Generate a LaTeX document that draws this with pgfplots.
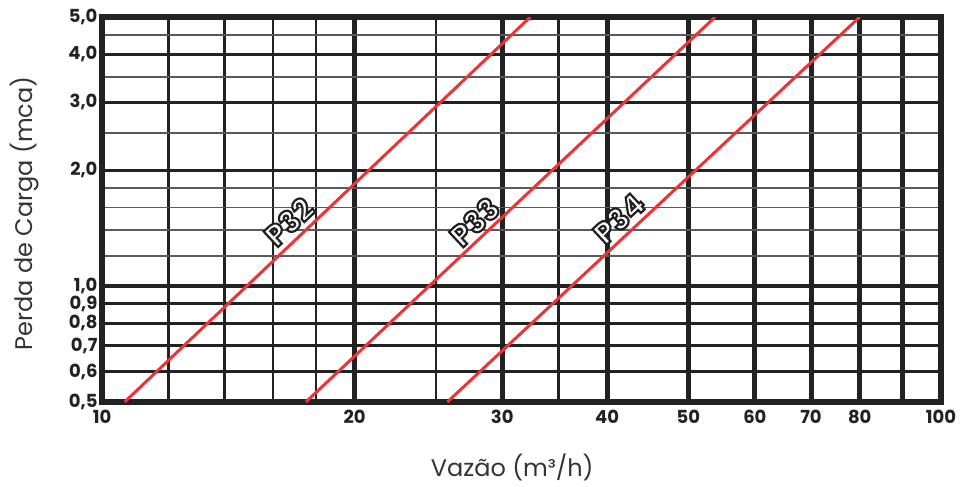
\documentclass[border=0pt]{standalone}
\usepackage{fontspec}
\setmainfont{Poppins}
\usepackage{pgfplots}
\pgfplotsset{compat=1.18}
\usetikzlibrary{calc}
\definecolor{frame}{HTML}{222222}
\definecolor{redline}{HTML}{EC3338}
\definecolor{labgray}{HTML}{333333}
\newcommand\tickfont{\fontsize{18}{20}\selectfont\bfseries}
\newcommand\plfont{\fontsize{30}{32}\selectfont\bfseries}
\newcommand\outl[1]{\special{pdf:literal direct 0.13 0.13 0.13 RG 2 Tr 2.2 w}#1\special{pdf:literal direct 0 Tr}}
\begin{document}
\begin{tikzpicture}
\begin{axis}[
  scale only axis, width=839pt, height=385pt,
  xmode=log, ymode=log,
  xmin=10, xmax=100, ymin=0.5, ymax=5,
  axis line style={draw=frame, line width=6pt},
  xtick={10,20,30,40,50,60,70,80,90,100},
  xticklabels={10,20,30,40,50,60,70,80,,100},
  minor xtick={12,14,16,18,25,35},
  ytick={0.5,0.6,0.7,0.8,0.9,1,2,3,4,5},
  yticklabels={{0,5},{0,6},{0,7},{0,8},{0,9},{1,0},{2,0},{3,0},{4,0},{5,0}},
  minor ytick={1.2,1.4,1.6,1.8,2.5,3.5,4.5},
  major tick length=0pt, minor tick length=0pt,
  tick style={draw=none},
  xmajorgrids, ymajorgrids, xminorgrids, yminorgrids,
  major x grid style={draw=frame, line width=5pt},
  minor x grid style={draw=frame, line width=2.4pt},
  major y grid style={draw=frame, line width=3.4pt},
  minor y grid style={draw=frame!75, line width=1.8pt},
  xticklabel style={font=\tickfont, text=frame, yshift=-5pt},
  yticklabel style={font=\tickfont, text=frame, xshift=-1pt},
  xlabel={Vazão (m³/h)},
  ylabel={Perda de Carga (mca)},
  every axis x label/.style={at={(axis description cs:0.489,0)}, anchor=center, yshift=-65pt, font=\fontsize{24}{26}\selectfont, text=labgray},
  every axis y label/.style={at={(axis description cs:-0.0918,0.49)}, anchor=center, rotate=90, font=\fontsize{24}{26}\selectfont, text=labgray},
  clip=true,
]
\addplot[redline, line width=3pt] coordinates {(10.64,0.5) (32.4,5.0)};
\addplot[redline, line width=3pt] coordinates {(17.5,0.5) (53.8,5.0)};
\addplot[redline, line width=3pt] coordinates {(25.8,0.5) (80,5.0)};
\coordinate (p32) at (axis cs:16.7,1.47);
\coordinate (p33) at (axis cs:27.8,1.47);
\coordinate (p34) at (axis cs:41.3,1.50);
\coordinate (sw) at (rel axis cs:0,0);
\coordinate (ne) at (rel axis cs:1,1);
\end{axis}
\foreach \c/\t in {p32/P32,p33/P33,p34/P34}{
  \node[rotate=43, text=white, font=\plfont, inner sep=0pt] at (\c) {\outl{\t}};
}
\pgfresetboundingbox
\path[use as bounding box] ($(sw)+(-102pt,-84pt)$) rectangle ($(ne)+(25pt,17pt)$);
\end{tikzpicture}
\end{document}
